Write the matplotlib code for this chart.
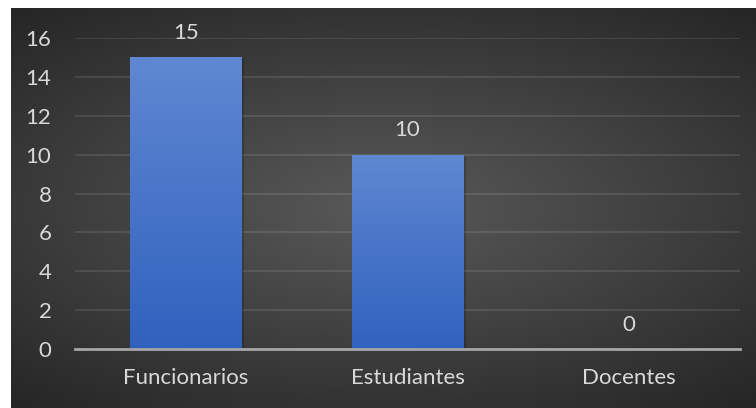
import numpy as np
import matplotlib
matplotlib.use("Agg")
import matplotlib.pyplot as plt
from matplotlib.colors import LinearSegmentedColormap
from matplotlib.patches import Rectangle

# datos
categorias = ["Funcionarios", "Estudiantes", "Docentes"]
valores = [15, 10, 0]
ticks_y = [0, 2, 4, 6, 8, 10, 12, 14, 16]

plt.rcParams['font.family'] = ['Lato', 'DejaVu Sans']
texto = '#d9d9d9'

W, H = 756, 408
fig = plt.figure(figsize=(W / 100, H / 100), dpi=100, facecolor='white')

# fondo con degradado radial
fondo = fig.add_axes([11 / W, 0, (W - 11) / W, (H - 8) / H])
fondo.set_axis_off()
yy, xx = np.mgrid[-1:1:200j, -1:1:300j]
r = np.sqrt((xx * 0.85) ** 2 + (yy * 1.0) ** 2)
r = np.clip(r / 1.3, 0, 1)
cmap_fondo = LinearSegmentedColormap.from_list('f', ['#595959', '#404040', '#262626'])
fondo.imshow(r, cmap=cmap_fondo, aspect='auto', extent=[0, 1, 0, 1], vmin=0, vmax=1)
fondo.set_xlim(0, 1)
fondo.set_ylim(0, 1)

ax = fig.add_axes([75 / W, (H - 349) / H, 665 / W, 311 / H])
ax.patch.set_alpha(0)
x = np.arange(len(categorias))
ax.set_xlim(-0.5, len(categorias) - 0.5)
ax.set_ylim(0, 16)

cmap_barra = LinearSegmentedColormap.from_list('b', ['#2f61be', '#6088d2'])
grad = np.linspace(0, 1, 256).reshape(-1, 1)
ancho = 0.505
for xi, v in zip(x, valores):
    if v <= 0:
        continue
    # sombra
    sombra = Rectangle((xi - ancho / 2 + 0.01, 0), ancho, v - 0.1, facecolor='black',
                       alpha=0.2, edgecolor='none', zorder=2)
    ax.add_patch(sombra)
    rect = Rectangle((xi - ancho / 2, 0), ancho, v, facecolor='none', edgecolor='none', zorder=3)
    ax.add_patch(rect)
    im = ax.imshow(grad, cmap=cmap_barra, aspect='auto', origin='lower',
                   extent=[xi - ancho / 2, xi + ancho / 2, 0, v], zorder=3)
    im.set_clip_path(rect)

for xi, v in zip(x, valores):
    ax.annotate(str(v), (xi, v), xytext=(0, 17.5), textcoords='offset points',
                ha='center', va='center', color=texto, fontsize=16)

ax.set_aspect('auto')
ax.set_yticks(ticks_y)
ax.set_xticks(x)
ax.set_xticklabels(categorias)
ax.grid(axis='y', color='white', alpha=0.1, linewidth=1.5)
ax.set_axisbelow(True)
for s in ['top', 'right', 'left']:
    ax.spines[s].set_visible(False)
ax.spines['bottom'].set_color('#a6a6a6')
ax.spines['bottom'].set_linewidth(2)
ax.spines['bottom'].set_zorder(4)
ax.tick_params(axis='y', length=0, pad=17, labelcolor=texto, labelsize=16)
ax.tick_params(axis='x', length=0, pad=14, labelcolor=texto, labelsize=16)

fig.savefig('out.png', dpi=100, facecolor='white')
